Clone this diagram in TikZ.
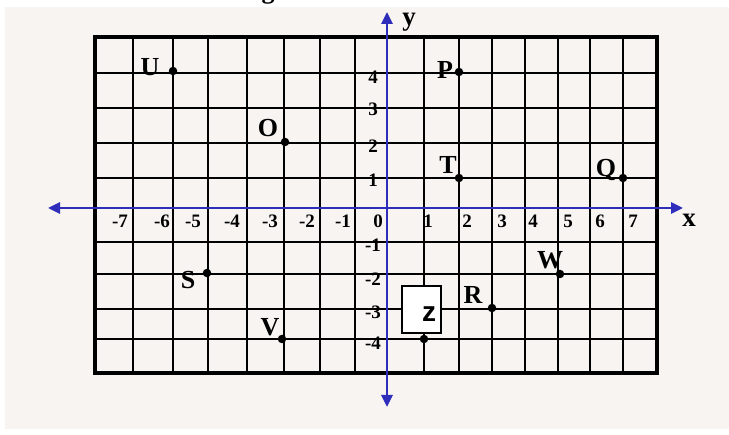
\documentclass[tikz,border=0pt]{standalone}
\usepackage{fontspec}
\setmainfont{Liberation Serif}
\newfontfamily\zsans{Liberation Sans}
\usetikzlibrary{arrows.meta}
\definecolor{bgc}{HTML}{F7F4F2}
\definecolor{axisblue}{HTML}{2E2EBA}
\begin{document}
\begin{tikzpicture}[x=1pt,y=-1pt,
  gridline/.style={line width=1.9pt, black},
  frame/.style={line width=3.2pt, black},
  axisline/.style={line width=2.8pt, axisblue, {Triangle[length=12pt,width=11pt]}-{Triangle[length=12pt,width=11pt]}},
  dot/.style={circle, fill=black, inner sep=0pt, minimum size=8.5pt},
  ptlabel/.style={font=\bfseries\fontsize{26}{26}\selectfont, inner sep=0pt},
  numlabel/.style={font=\bfseries\fontsize{19}{19}\selectfont, inner sep=0pt},
  axlabel/.style={font=\bfseries\fontsize{27}{27}\selectfont, inner sep=0pt},
  zboxstyle/.style={draw=black, line width=2pt, fill=white, minimum width=39pt, minimum height=47pt, inner sep=0pt},
  ztextstyle/.style={font=\zsans\bfseries\fontsize{28}{28}\selectfont, inner sep=0pt}]

\useasboundingbox (0,0) rectangle (729,435);
\fill[white] (0,0) rectangle (729,435);
\fill[bgc] (5,7) rectangle (729,429);

% cropped title remnant
\node[ptlabel, anchor=base] (title) at (268,-1) {g};

% grid
\foreach \gx in {133,173,208,247,284,320,355,387,424,459,492,525,558,590,623}
  \draw[gridline] (\gx,37) -- (\gx,373);
\foreach \gy in {73,108,143,178,208,242,274,309,339}
  \draw[gridline] (95,\gy) -- (657,\gy);
\draw[frame] (95,37) rectangle (657,373);

% axes
\coordinate (xleft) at (48,208);
\coordinate (xright) at (683,208);
\coordinate (ytop) at (387,12);
\coordinate (ybottom) at (387,407);
\draw[axisline] (xleft) -- (xright);
\draw[axisline] (ybottom) -- (ytop);
\node[axlabel] (xlab) at (689,220) {x};
\node[axlabel] (ylab) at (409,22) {y};

% x-axis numbers
\foreach \t/\px in {-7/120,-6/162,-5/193,-4/232,-3/270,-2/307,-1/343,0/378,1/428,2/467,3/502,4/533,5/568,6/600,7/633}
  \node[numlabel, anchor=base] (nx\t) at (\px,228) {\t};

% y-axis numbers
\foreach \t/\py in {4/77,3/109,2/146,1/180,-1/245,-2/279,-3/312,-4/343}
  \node[numlabel] (ny\t) at (373,\py) {\t};

% points
\node[dot] (U) at (173,71) {};
\node[ptlabel] (Ul) at (150,67) {U};
\node[dot] (O) at (285,142) {};
\node[ptlabel] (Ol) at (268,128) {O};
\node[dot] (P) at (459,72) {};
\node[ptlabel] (Pl) at (445,70) {P};
\node[dot] (T) at (459,178) {};
\node[ptlabel] (Tl) at (448,165) {T};
\node[dot] (Q) at (623,178) {};
\node[ptlabel] (Ql) at (606,170) {Q};
\node[dot] (S) at (207,273) {};
\node[ptlabel] (Sl) at (188,280) {S};
\node[dot] (V) at (282,339) {};
\node[ptlabel] (Vl) at (270,327) {V};
\node[dot] (W) at (560,274) {};
\node[ptlabel] (Wl) at (550,260) {W};
\node[dot] (R) at (492,308) {};
\node[ptlabel] (Rl) at (473,295) {R};
\node[dot] (Z) at (424,339) {};
\node[zboxstyle] (zbox) at (421.5,309.5) {};
\node[ztextstyle] (ztext) at (429,314) {z};
\end{tikzpicture}
\end{document}
